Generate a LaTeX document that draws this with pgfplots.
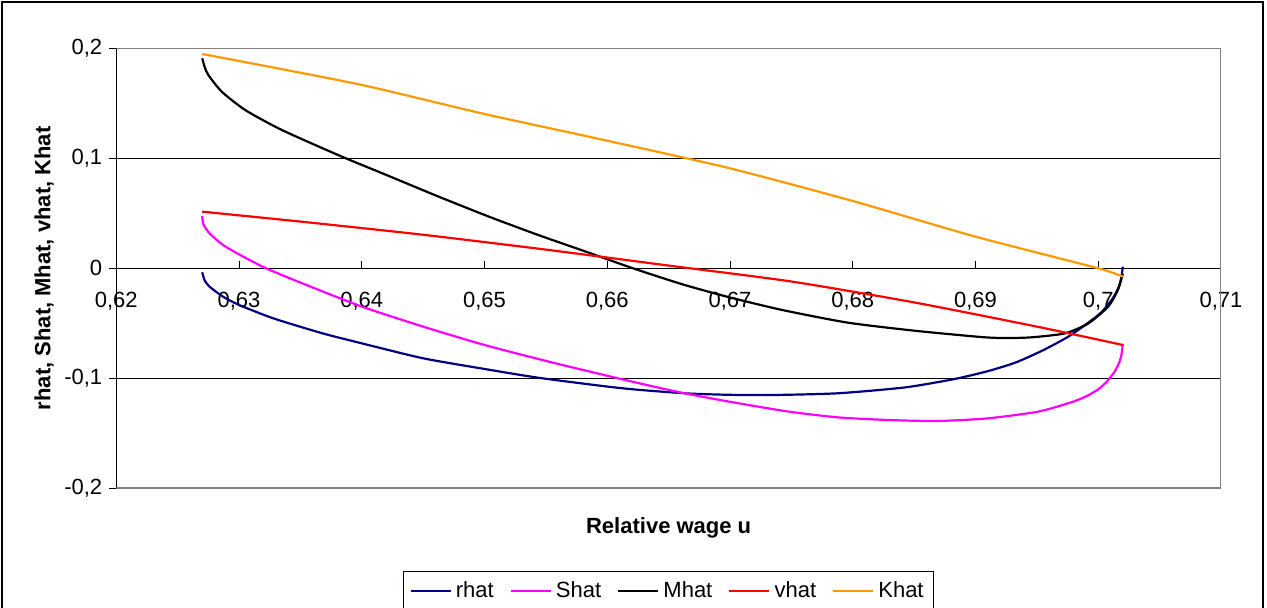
\documentclass[border=0pt]{standalone}
\usepackage{fontspec}
\setmainfont{Liberation Sans}
\usepackage{pgfplots}
\pgfplotsset{compat=1.18}
\definecolor{rnavy}{RGB}{0,0,128}
\definecolor{smag}{RGB}{255,0,255}
\definecolor{vred}{RGB}{255,0,0}
\definecolor{korange}{RGB}{255,153,0}
\definecolor{framegray}{RGB}{128,128,128}

\begin{document}
\begin{tikzpicture}[font=\fontsize{11}{13}\selectfont]
\draw[line width=0.6pt] (1pt,-1pt) rectangle (631.5pt,-320pt);
\begin{axis}[
  at={(58.15pt,-244.15pt)}, anchor=south west,
  scale only axis, width=552.35pt, height=220pt,
  xmin=0.62, xmax=0.71, ymin=-0.2, ymax=0.2,
  axis x line=middle, axis y line=left,
  axis line style={-, black, line width=0.5pt},
  hide obscured x ticks=false, hide obscured y ticks=false,
  xtick={0.62,0.63,0.64,0.65,0.66,0.67,0.68,0.69,0.70,0.71},
  xticklabels={{0,62},{0,63},{0,64},{0,65},{0,66},{0,67},{0,68},{0,69},{0,7},{0,71}},
  ytick={-0.2,-0.1,0,0.1,0.2},
  yticklabels={{-0,2},{-0,1},0,{0,1},{0,2}},
  xtick align=inside, ytick align=outside,
  major tick length=3.5pt,
  tick style={black, line width=0.5pt},
  xticklabel style={yshift=-8.5pt},
  ymajorgrids, grid style={black, line width=0.5pt},
  every axis x label/.style={at={(axis description cs:0.5,-0.09)}, anchor=center, font=\bfseries\fontsize{11}{13}\selectfont},
  every axis y label/.style={at={(axis description cs:-0.0654,0.5)}, rotate=90, anchor=center, font=\bfseries\fontsize{11}{13}\selectfont},
  xlabel={Relative wage u},
  ylabel={rhat, Shat, Mhat, vhat, Khat},
  legend columns=5,
  legend style={at={(axis description cs:0.5,-0.188)}, anchor=north, draw=black, line width=0.5pt,
    inner xsep=3pt, inner ysep=3pt, font=\fontsize{11}{13}\selectfont,
    /tikz/every even column/.append style={column sep=6pt}},
  legend image code/.code={\draw[#1] (0pt,0pt) -- (20pt,0pt);},
  every axis plot/.append style={line width=1.1pt, no markers, smooth, tension=0.4},
]
\addplot[rnavy] coordinates {
(0.6270,-0.0036) (0.6272,-0.0110) (0.6276,-0.0167) (0.6287,-0.0258) (0.6300,-0.0333)
(0.6328,-0.0455) (0.6368,-0.0591) (0.6400,-0.0682) (0.6450,-0.0818) (0.6500,-0.0915)
(0.6544,-0.0995) (0.6600,-0.1075) (0.6626,-0.1105) (0.6666,-0.1138) (0.6700,-0.1150)
(0.6734,-0.1152) (0.6788,-0.1136) (0.6843,-0.1082) (0.6883,-0.1006) (0.6910,-0.0935)
(0.6933,-0.0855) (0.6955,-0.0745) (0.6975,-0.0625) (0.6990,-0.0510) (0.7003,-0.0395)
(0.7012,-0.0270) (0.7017,-0.0160) (0.7019,-0.0070) (0.7020,0.0015)};
\addlegendentry{rhat}
\addplot[smag] coordinates {
(0.6270,0.0476) (0.6271,0.0400) (0.6276,0.0318) (0.6287,0.0212) (0.6301,0.0121)
(0.6322,0.0) (0.6355,-0.0152) (0.6400,-0.0348) (0.6450,-0.0530) (0.6500,-0.0697)
(0.6558,-0.0864) (0.6626,-0.1045) (0.6666,-0.1143) (0.6707,-0.1227) (0.6748,-0.1303)
(0.6788,-0.1355) (0.6829,-0.1379) (0.6869,-0.1388) (0.6910,-0.1364) (0.6951,-0.1303)
(0.6978,-0.1218) (0.6990,-0.1165) (0.7000,-0.1100) (0.7007,-0.1030) (0.7013,-0.0945)
(0.7017,-0.0860) (0.7019,-0.0780) (0.7020,-0.0688)};
\addlegendentry{Shat}
\addplot[black] coordinates {
(0.6270,0.1909) (0.6272,0.1830) (0.6275,0.1757) (0.6286,0.1605) (0.6305,0.1439)
(0.6332,0.1273) (0.6359,0.1136) (0.6387,0.1000) (0.6418,0.0858) (0.6463,0.0650)
(0.6504,0.0468) (0.6545,0.0298) (0.6585,0.0142) (0.6621,0.0) (0.6662,-0.0148)
(0.6700,-0.0265) (0.6743,-0.0380) (0.6796,-0.0494) (0.6851,-0.0568) (0.6905,-0.0625)
(0.6925,-0.0634) (0.6946,-0.0627) (0.6973,-0.0591) (0.6992,-0.0500) (0.7008,-0.0349)
(0.7016,-0.0197) (0.7020,-0.0050)};
\addlegendentry{Mhat}
\addplot[vred] coordinates {
(0.6270,0.0515) (0.6350,0.0425) (0.6450,0.0305) (0.6550,0.0170) (0.6650,0.0025)
(0.6750,-0.0120) (0.6850,-0.0310) (0.6950,-0.0530) (0.7020,-0.0697)};
\addlegendentry{vhat}
\addplot[korange] coordinates {
(0.6270,0.1948) (0.6300,0.1885) (0.6400,0.1667) (0.6500,0.1403) (0.6600,0.1160)
(0.6700,0.0909) (0.6800,0.0612) (0.6900,0.0288) (0.7000,0.0) (0.7020,-0.0076)};
\addlegendentry{Khat}
\draw[framegray, line width=0.9pt] (rel axis cs:0,1) -- (rel axis cs:1,1) -- (rel axis cs:1,0) -- (rel axis cs:0,0);
\end{axis}
\pgfresetboundingbox
\useasboundingbox (0pt,0pt) rectangle (633.5pt,-303.5pt);
\end{tikzpicture}
\end{document}
